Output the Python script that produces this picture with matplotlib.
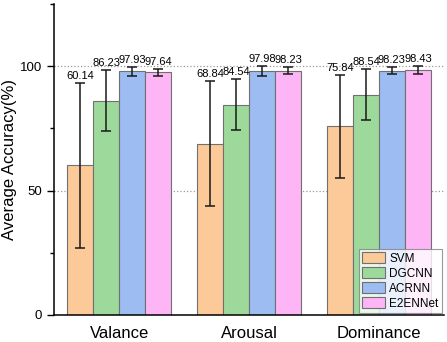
import numpy as np
import matplotlib
matplotlib.use('Agg')
import matplotlib.pyplot as plt
from matplotlib.ticker import MultipleLocator

plt.rcParams['font.family'] = ['Liberation Sans', 'DejaVu Sans']

# Dados
categorias = ['Valance', 'Arousal', 'Dominance']
modelos = ['SVM', 'DGCNN', 'ACRNN', 'E2ENNet']
svm_vals = [60.14, 68.84, 75.84]
dgcnn_vals = [86.23, 84.54, 88.54]
acrnn_vals = [97.93, 97.98, 98.23]
e2en_vals = [97.64, 98.23, 98.43]
svm_err = [33.3, 25.1, 20.7]
dgcnn_err = [12.4, 10.2, 10.3]
acrnn_err = [1.9, 2.0, 1.4]
e2en_err = [1.4, 1.3, 1.7]

valores = [svm_vals, dgcnn_vals, acrnn_vals, e2en_vals]
erros = [svm_err, dgcnn_err, acrnn_err, e2en_err]
cores = ['#FCC998', '#9ED99C', '#9CBCF2', '#FDB5F6']

fig = plt.figure(figsize=(4.47, 3.42), dpi=100)
ax = fig.add_axes([0.121, 0.079, 0.872, 0.909])

largura = 0.2
x = np.arange(len(categorias))
for i, (vals, errs, cor, nome) in enumerate(zip(valores, erros, cores, modelos)):
    pos = x + (i - 1.5) * largura
    ax.bar(pos, vals, width=largura, color=cor, edgecolor='#707070',
           linewidth=0.8, label=nome, zorder=2)
    ax.errorbar(pos, vals, yerr=errs, fmt='none', ecolor='#1a1a1a',
                elinewidth=1.1, capsize=3.5, capthick=1.1, zorder=3)
    for p, v, e in zip(pos, vals, errs):
        ax.text(p, v + e + 0.8, f'{v:.2f}', ha='center', va='bottom',
                fontsize=8, zorder=4)

ax.set_xlim(-0.5, 2.5)
ax.set_ylim(0, 125)
ax.set_yticks([0, 50, 100])
ax.yaxis.set_minor_locator(MultipleLocator(25))
ax.set_xticks(x)
ax.set_xticklabels(categorias, fontsize=12)
ax.tick_params(axis='x', length=0, pad=8)
ax.tick_params(axis='y', which='major', labelsize=9.5, length=5, width=1)
ax.tick_params(axis='y', which='minor', length=3, width=1)
ax.set_ylabel('Average Accuracy(%)', fontsize=12)
ax.yaxis.set_label_coords(-0.095, 0.5)

for y in [50, 100]:
    ax.axhline(y, color='#999999', linestyle=':', linewidth=0.9, zorder=1)

ax.spines['top'].set_visible(False)
ax.spines['right'].set_visible(False)
ax.spines['left'].set_linewidth(1.1)
ax.spines['bottom'].set_linewidth(1.1)

leg = ax.legend(loc='lower right', fontsize=8.5, frameon=True, fancybox=False,
                edgecolor='#808080', handlelength=1.9, handleheight=1.1,
                handletextpad=0.4, labelspacing=0.2, borderpad=0.25,
                borderaxespad=0.2)
leg.get_frame().set_linewidth(0.8)
leg.set_zorder(5)

plt.savefig('out.png', dpi=100)
